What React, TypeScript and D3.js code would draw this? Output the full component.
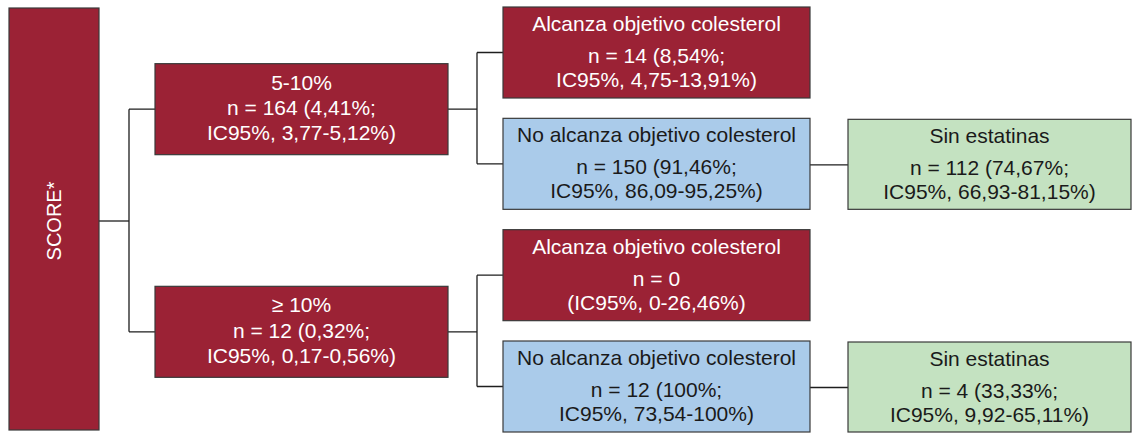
import React from "react";
import * as d3 from "d3";

// ---- data ----
const rootLabel = "SCORE*";
const riskGroups = ["5-10%", "≥ 10%"];
const riskN = ["n = 164 (4,41%;", "n = 12 (0,32%;"];
const riskCI = ["IC95%, 3,77-5,12%)", "IC95%, 0,17-0,56%)"];
const targetTitles = ["Alcanza objetivo colesterol", "No alcanza objetivo colesterol"];
const targetN = [
  ["n = 14 (8,54%;", "n = 150 (91,46%;"],
  ["n = 0", "n = 12 (100%;"],
];
const targetCI = [
  ["IC95%, 4,75-13,91%)", "IC95%, 86,09-95,25%)"],
  ["(IC95%, 0-26,46%)", "IC95%, 73,54-100%)"],
];
const statinTitle = "Sin estatinas";
const statinN = ["n = 112 (74,67%;", "n = 4 (33,33%;"];
const statinCI = ["IC95%, 66,93-81,15%)", "IC95%, 9,92-65,11%)"];

// ---- style ----
const RED = "#9b2235";
const BLUE = "#aacbea";
const GREEN = "#c4e2c1";
const STROKE = "#3a3a3a";
const LINE = "#1e1e1e";
const FONT = "'Liberation Sans', Arial, Helvetica, sans-serif";
const FS = 21;

export default function App() {
  const W = 1134;
  const H = 433;
  const boxH = 91;

  // leaf rows (4) positioned by a point scale
  const leafIdx = d3.range(4);
  const yRow = d3.scalePoint<number>().domain(leafIdx).range([52.5, 386.5]);

  // columns
  const col = {
    root: { x: 9, w: 90 },
    risk: { x: 155, w: 293 },
    target: { x: 503, w: 307 },
    statin: { x: 848, w: 283 },
  };
  const elbow = 29;

  const rootTop = 8;
  const rootBot = 430;
  const rootCy = (rootTop + rootBot) / 2 + 2;

  const elements: React.ReactNode[] = [];
  const lines: React.ReactNode[] = [];

  const riskCenters = riskGroups.map((_, g) =>
    d3.mean([yRow(g * 2)!, yRow(g * 2 + 1)!])! + 1
  );

  // root -> risk connectors
  const rRight = col.root.x + col.root.w;
  const rElbow = rRight + 30;
  lines.push(
    <path
      key="root-conn"
      d={`M${rRight},${rootCy}H${rElbow}`}
      fill="none"
      stroke={LINE}
      strokeWidth={1.3}
    />
  );
  lines.push(
    <path
      key="root-v"
      d={`M${rElbow},${riskCenters[0]}V${riskCenters[1]}M${rElbow},${riskCenters[0]}H${col.risk.x}M${rElbow},${riskCenters[1]}H${col.risk.x}`}
      fill="none"
      stroke={LINE}
      strokeWidth={1.3}
    />
  );

  riskGroups.forEach((label, g) => {
    const cy = riskCenters[g];
    const top = cy - boxH / 2;
    elements.push(
      <g key={`risk-${g}`}>
        <rect x={col.risk.x} y={top} width={col.risk.w} height={boxH} fill={RED} stroke={STROKE} strokeWidth={1.2} />
        {[label, riskN[g], riskCI[g]].map((t, i) => (
          <text
            key={i}
            x={col.risk.x + col.risk.w / 2}
            y={top + 26 + i * 25.3}
            textAnchor="middle"
            fill="#ffffff"
            fontSize={FS}
            fontFamily={FONT}
          >
            {t}
          </text>
        ))}
      </g>
    );
    const pRight = col.risk.x + col.risk.w;
    const ex = pRight + elbow;
    const c0 = yRow(g * 2)!;
    const c1 = yRow(g * 2 + 1)!;
    lines.push(
      <path
        key={`risk-conn-${g}`}
        d={`M${pRight},${cy}H${ex}M${ex},${c0}V${c1}M${ex},${c0}H${col.target.x}M${ex},${c1}H${col.target.x}`}
        fill="none"
        stroke={LINE}
        strokeWidth={1.3}
      />
    );

    targetTitles.forEach((title, k) => {
      const tcy = yRow(g * 2 + k)!;
      const ttop = tcy - boxH / 2;
      const red = k === 0;
      const tc = red ? "#ffffff" : "#1a1a1a";
      elements.push(
        <g key={`target-${g}-${k}`}>
          <rect x={col.target.x} y={ttop} width={col.target.w} height={boxH} fill={red ? RED : BLUE} stroke={STROKE} strokeWidth={1.2} />
          {[title, targetN[g][k], targetCI[g][k]].map((t, i) => (
            <text
              key={i}
              x={col.target.x + col.target.w / 2}
              y={ttop + 24 + (i === 0 ? 0 : 32 + (i - 1) * 24)}
              textAnchor="middle"
              fill={tc}
              fontSize={FS}
              fontFamily={FONT}
            >
              {t}
            </text>
          ))}
        </g>
      );
      if (!red) {
        const sTop = ttop + 1;
        lines.push(
          <path
            key={`stat-conn-${g}`}
            d={`M${col.target.x + col.target.w},${tcy + 1}H${col.statin.x}`}
            fill="none"
            stroke={LINE}
            strokeWidth={1.3}
          />
        );
        elements.push(
          <g key={`statin-${g}`}>
            <rect x={col.statin.x} y={sTop} width={col.statin.w} height={boxH - 1} fill={GREEN} stroke={STROKE} strokeWidth={1.2} />
            {[statinTitle, statinN[g], statinCI[g]].map((t, i) => (
              <text
                key={i}
                x={col.statin.x + col.statin.w / 2}
                y={sTop + 24 + (i === 0 ? 0 : 32 + (i - 1) * 24)}
                textAnchor="middle"
                fill="#1a1a1a"
                fontSize={FS}
                fontFamily={FONT}
              >
                {t}
              </text>
            ))}
          </g>
        );
      }
    });
  });

  return (
    <svg
      width={W}
      height={H}
      viewBox={`0 0 ${W} ${H}`}
      style={{ position: "absolute", left: 0, top: 0, background: "#ffffff" }}
    >
      <rect x={0} y={0} width={W} height={H} fill="#ffffff" />
      {lines}
      <rect x={col.root.x} y={rootTop} width={col.root.w} height={rootBot - rootTop} fill={RED} stroke={STROKE} strokeWidth={1.2} />
      <text
        transform={`translate(${col.root.x + col.root.w / 2 + 7},${rootCy}) rotate(-90)`}
        textAnchor="middle"
        fill="#ffffff"
        fontSize={20}
        fontFamily={FONT}
      >
        {rootLabel}
      </text>
      {elements}
    </svg>
  );
}
